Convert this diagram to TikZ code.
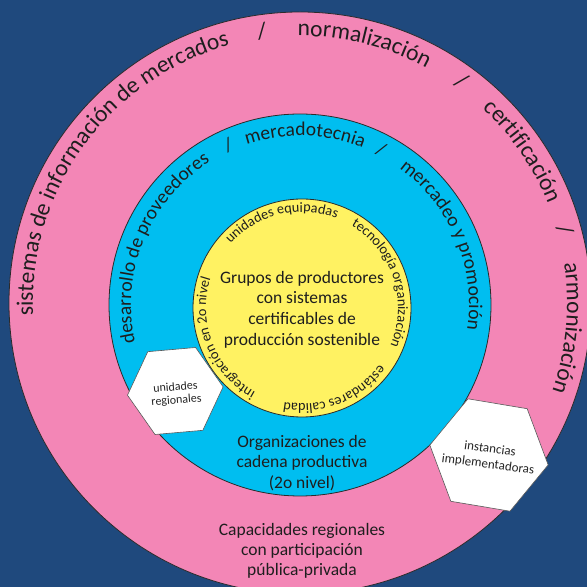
\documentclass[tikz,border=0pt]{standalone}
\usepackage{fontspec}
\setmainfont{Carlito}
\usetikzlibrary{decorations.text,calc}
\definecolor{bgc}{HTML}{1F497D}
\definecolor{pinkc}{HTML}{F386B6}
\definecolor{cyanc}{HTML}{00BEF0}
\definecolor{yelc}{HTML}{FFF262}
\definecolor{txt}{HTML}{1E1E1E}
\definecolor{ringc}{HTML}{2B2B2B}
\newcommand\ringtext[5]{%
  \path[decorate, decoration={text along path, text align=center, text color=txt,
      text={|\fontsize{#4}{#4}\selectfont|#5}}]
    ($(#1)+(#3+70:#2)$) arc[start angle=#3+70, end angle=#3-70, radius=#2];
}
\tikzset{
  disc/.style={circle, draw=ringc, line width=0.8pt, inner sep=0pt},
  hexline/.style={draw=gray!70!black, fill=white, line width=0.6pt, line join=round},
  hextext/.style={align=center, text=gray!30!black, inner sep=0pt},
  label/.style={align=center, text=txt}
}
\begin{document}
\begin{tikzpicture}[x=1pt,y=1pt]
\useasboundingbox (0,0) rectangle (587,587);
\clip (0,0) rectangle (587,587);
\fill[bgc] (0,0) rectangle (587,587);
\node[disc, fill=pinkc, minimum size=582pt] (P) at (300,284) {};
\node[disc, fill=cyanc, minimum size=382pt] (B) at (300,282) {};
\node[disc, fill=yelc, minimum size=218pt] (Y) at (302,279) {};
% outer ring
\ringtext{P}{267pt}{144}{23.5}{sistemas de información de mercados}
\ringtext{P}{267pt}{98}{23.5}{/}
\ringtext{P}{267pt}{76.1}{23.5}{normalización}
\ringtext{P}{267pt}{54}{23.5}{/}
\ringtext{P}{267pt}{34.3}{23.5}{certificación}
\ringtext{P}{267pt}{15.4}{23.5}{/}
\ringtext{P}{267pt}{-5.35}{23.5}{armonización}
% blue ring
\ringtext{B}{169pt}{157.5}{19.5}{desarrollo de proveedores}
\ringtext{B}{169pt}{114.2}{19.5}{/}
\ringtext{B}{169pt}{88.3}{19.5}{mercadotecnia}
\ringtext{B}{169pt}{62.4}{19.5}{/}
\ringtext{B}{169pt}{22.8}{19.5}{mercadeo y promoción}
% yellow ring
\ringtext{Y}{96pt}{103.5}{14.3}{unidades equipadas}
\ringtext{Y}{96pt}{18}{14.3}{tecnología organización}
\ringtext{Y}{96pt}{-68.5}{14.3}{estándares calidad}
\ringtext{Y}{96pt}{201.6}{14.3}{integración en 2o nivel}
% central texts
\node[label, font=\fontsize{17.5}{20.7}\selectfont] (G) at (302,277.5)
  {Grupos de productores\\con sistemas\\certificables de\\producción sostenible};
\node[label, font=\fontsize{17.5}{20.5}\selectfont] (O) at (302,124)
  {Organizaciones de\\cadena productiva\\(2o nivel)};
\node[label, font=\fontsize{17.5}{20}\selectfont] (C) at (302,36)
  {Capacidades regionales\\con participación\\pública-privada};
% hexagons
\coordinate (H1) at (175.3,196);
\filldraw[hexline] ($(H1)+(5:48pt)$) \foreach \k in {1,...,5} { -- ($(H1)+(5+60*\k:48pt)$) } -- cycle;
\node[hextext, rotate=4.5, font=\fontsize{12}{13}\selectfont] (H1t) at (176,193)
  {unidades\\regionales};
\coordinate (H2) at (489,132);
\filldraw[hexline] ($(H2)+(-9.5:60pt)$) \foreach \k in {1,...,5} { -- ($(H2)+(-9.5+60*\k:60pt)$) } -- cycle;
\node[hextext, rotate=-7.5, font=\fontsize{13}{15.5}\selectfont] (H2t) at (489,130)
  {instancias\\implementadoras};
\end{tikzpicture}
\end{document}
